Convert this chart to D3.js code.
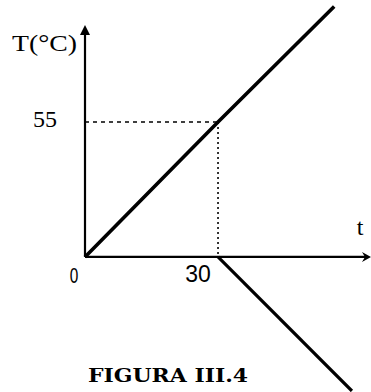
<!DOCTYPE html>
<html>
<head>
<meta charset="utf-8">
<script src="https://cdn.jsdelivr.net/npm/d3@7"></script>
<style>
  body { margin: 0; background: white; }
  svg { display: block; }
</style>
</head>
<body>
<svg id="chart"></svg>
<script>
// temperature vs time, two straight segments
const rising = [{ t: 0, T: 0 }, { t: 30, T: 55 }, { t: 56.2, T: 102 }];
const falling = [{ t: 30, T: 0 }, { t: 60.2, T: -54.6 }];
const guidePoint = { t: 30, T: 55 };
const xTicks = [0, 30];
const yTicks = [55];

const dimensions = {
    width: 371,
    height: 392
};

const svg = d3.select("#chart")
    .attr("width", dimensions.width)
    .attr("height", dimensions.height)
    .style("background-color", "white");

const xScale = d3.scaleLinear()
    .domain([0, 64.5])
    .range([85, 371]);

const yScale = d3.scaleLinear()
    .domain([-54.6, 94.5])
    .range([391, 25]);

// dashed guides to the point (30, 55)
svg.append("line")
    .attr("x1", xScale(0))
    .attr("x2", xScale(guidePoint.t))
    .attr("y1", yScale(guidePoint.T))
    .attr("y2", yScale(guidePoint.T))
    .attr("stroke", "black")
    .attr("stroke-width", 1.5)
    .attr("stroke-dasharray", "4,4");

svg.append("line")
    .attr("x1", xScale(guidePoint.t))
    .attr("x2", xScale(guidePoint.t))
    .attr("y1", yScale(guidePoint.T))
    .attr("y2", yScale(0))
    .attr("stroke", "black")
    .attr("stroke-width", 1.6)
    .attr("stroke-dasharray", "2,3");

// axes
svg.append("line")
    .attr("x1", xScale(0))
    .attr("x2", xScale(64.5) - 4)
    .attr("y1", yScale(0))
    .attr("y2", yScale(0))
    .attr("stroke", "black")
    .attr("stroke-width", 2.2);

svg.append("line")
    .attr("x1", xScale(0))
    .attr("x2", xScale(0))
    .attr("y1", yScale(0))
    .attr("y2", yScale(94.5) + 6)
    .attr("stroke", "black")
    .attr("stroke-width", 2.2);

// arrow heads
const xEnd = [xScale(64.5), yScale(0)];
svg.append("path")
    .attr("d", `M${xEnd[0]},${xEnd[1]} L${xEnd[0] - 9},${xEnd[1] - 5} L${xEnd[0] - 6},${xEnd[1]} L${xEnd[0] - 9},${xEnd[1] + 5} Z`)
    .attr("fill", "black");

const yEnd = [xScale(0), yScale(94.5)];
svg.append("path")
    .attr("d", `M${yEnd[0]},${yEnd[1]} L${yEnd[0] - 5},${yEnd[1] + 10} L${yEnd[0] + 5},${yEnd[1] + 10} Z`)
    .attr("fill", "black");

// data lines
const line = d3.line()
    .x(d => xScale(d.t))
    .y(d => yScale(d.T));

svg.append("path")
    .datum(rising)
    .attr("d", line)
    .attr("fill", "none")
    .attr("stroke", "black")
    .attr("stroke-width", 3.6);

svg.append("path")
    .datum(falling)
    .attr("d", line)
    .attr("fill", "none")
    .attr("stroke", "black")
    .attr("stroke-width", 3.2);

// tick labels
svg.append("text")
    .attr("transform", `translate(${xScale(xTicks[0]) - 11},${yScale(0) + 26}) scale(0.7,1)`)
    .attr("text-anchor", "middle")
    .attr("font-family", "Liberation Sans")
    .attr("font-size", 22)
    .text(xTicks[0]);

svg.append("text")
    .attr("x", xScale(xTicks[1]) - 20)
    .attr("y", yScale(0) + 25)
    .attr("text-anchor", "middle")
    .style("font-family", "Liberation Sans")
    .style("font-size", "23px")
    .text(xTicks[1]);

svg.append("text")
    .attr("x", 57)
    .attr("y", yScale(yTicks[0]) + 5)
    .attr("text-anchor", "end")
    .style("font-family", "Liberation Serif")
    .style("font-size", "24px")
    .text(yTicks[0]);

// axis titles
svg.append("text")
    .attr("x", 12)
    .attr("y", 51)
    .style("font-family", "Liberation Serif")
    .style("font-size", "24px")
    .attr("textLength", 65)
    .attr("lengthAdjust", "spacingAndGlyphs")
    .text("T(°C)");

svg.append("text")
    .attr("x", 360)
    .attr("y", 235)
    .attr("text-anchor", "middle")
    .style("font-family", "Liberation Serif")
    .style("font-size", "24px")
    .text("t");

svg.append("text")
    .attr("x", 88)
    .attr("y", 382)
    .style("font-family", "DejaVu Serif")
    .style("font-weight", "bold")
    .style("font-size", "18px")
    .attr("textLength", 160)
    .attr("lengthAdjust", "spacingAndGlyphs")
    .text("FIGURA III.4");
</script>
</body>
</html>
